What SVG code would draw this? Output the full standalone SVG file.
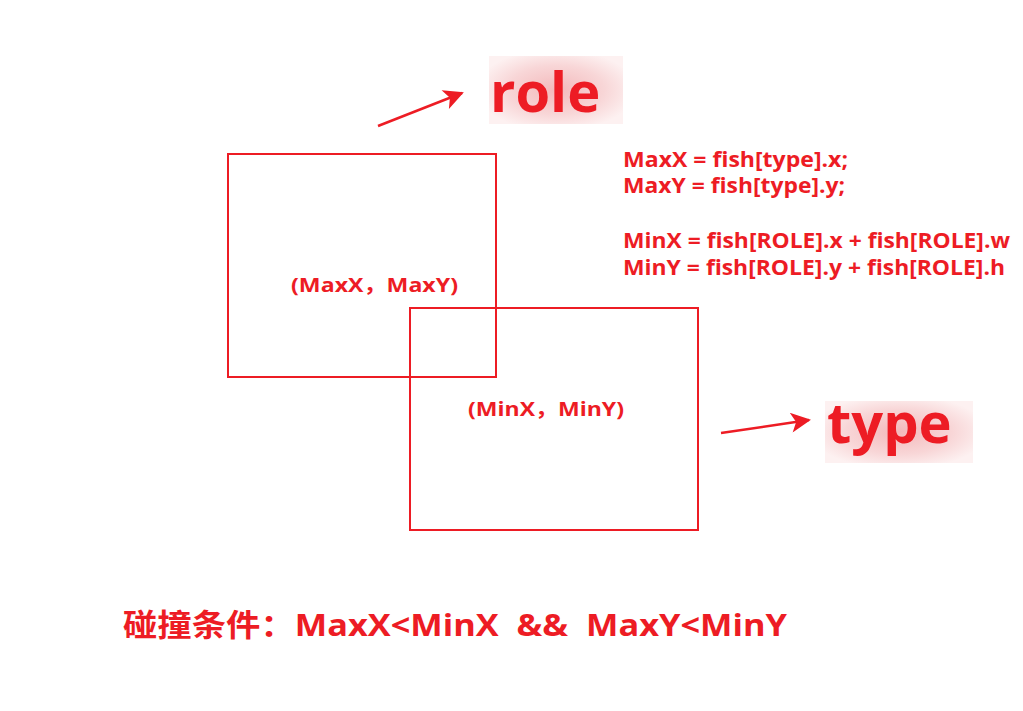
<svg xmlns="http://www.w3.org/2000/svg" width="1023" height="711" viewBox="0 0 1023 711">
<style>
.t{font-family:"Open Sans","Noto Sans CJK SC",sans-serif;font-weight:bold;fill:#ED1C24}
.box{fill:none;stroke:#ED1C24;stroke-width:2}
.arr{stroke:#ED1C24;stroke-width:2.5;fill:none}
</style>
<defs>
<radialGradient id="glow" cx="50%" cy="50%" r="60%">
<stop offset="0" stop-color="#f3b9bb"/>
<stop offset="0.6" stop-color="#f8d6d7"/>
<stop offset="1" stop-color="#fdf1f1"/>
</radialGradient>
<marker id="ah" viewBox="0 0 10 10" refX="9" refY="5" markerWidth="10" markerHeight="8" orient="auto" markerUnits="strokeWidth">
<path d="M0,0 L10,5 L0,10 L2.5,5 Z" fill="#ED1C24"/>
</marker>
</defs>
<rect width="1023" height="711" fill="#fff"/>
<g id="role-label">
<rect x="489" y="56" width="134" height="68" fill="url(#glow)"/>
<text class="t" x="490" y="112" font-size="56">role</text>
</g>
<g id="type-label">
<rect x="825" y="401" width="148" height="62" fill="url(#glow)"/>
<text class="t" x="827" y="443" font-size="56">type</text>
</g>
<g id="role-box"><rect class="box" x="228" y="154" width="268" height="223"/>
<text class="t" x="291" y="292" font-size="20" textLength="167" lengthAdjust="spacingAndGlyphs">(MaxX，MaxY)</text></g>
<g id="type-box"><rect class="box" x="410" y="308" width="288" height="222"/>
<text class="t" x="468" y="416" font-size="20" textLength="156" lengthAdjust="spacingAndGlyphs">(MinX，MinY)</text></g>
<g id="formulas">
<text class="t" x="623" y="167" font-size="21" textLength="225" lengthAdjust="spacingAndGlyphs">MaxX = fish[type].x;</text>
<text class="t" x="623" y="193" font-size="21" textLength="222" lengthAdjust="spacingAndGlyphs">MaxY = fish[type].y;</text>
<text class="t" x="623" y="248" font-size="21" textLength="387" lengthAdjust="spacingAndGlyphs">MinX = fish[ROLE].x + fish[ROLE].w</text>
<text class="t" x="623" y="275" font-size="21" textLength="382" lengthAdjust="spacingAndGlyphs">MinY = fish[ROLE].y + fish[ROLE].h</text>
</g>
<g id="condition">
<text class="t" x="123" y="636" font-size="31" xml:space="preserve" textLength="664" lengthAdjust="spacingAndGlyphs">碰撞条件：MaxX&lt;MinX  &amp;&amp;  MaxY&lt;MinY</text>
</g>
<g id="connectors">
<line class="arr" x1="378" y1="126" x2="462" y2="93" marker-end="url(#ah)"/>
<line class="arr" x1="721" y1="433" x2="809" y2="420" marker-end="url(#ah)"/>
</g>
</svg>
